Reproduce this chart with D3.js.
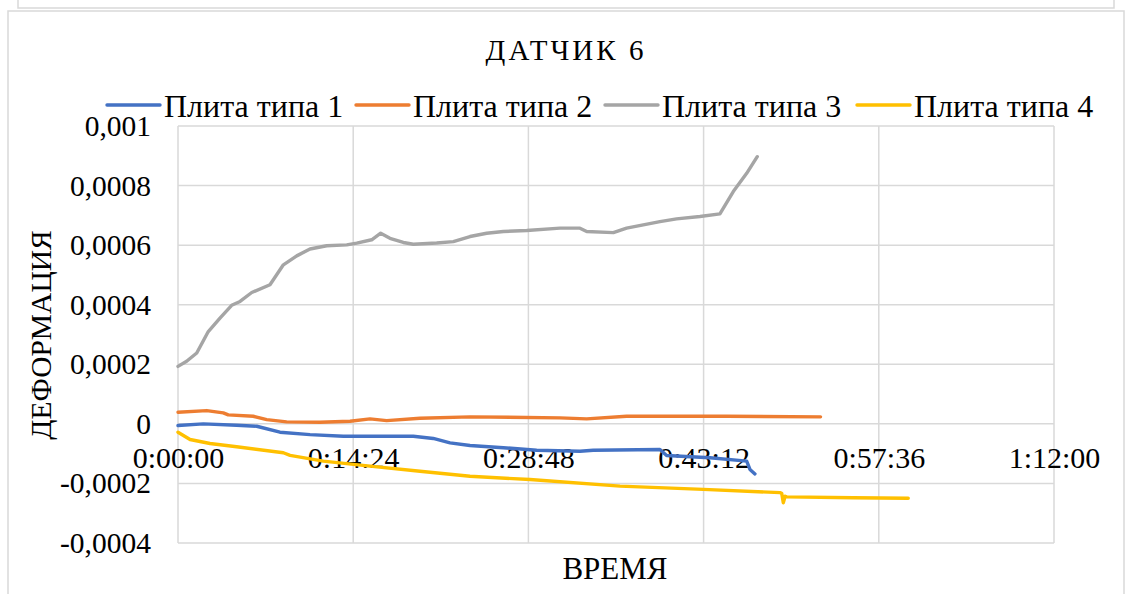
<!DOCTYPE html>
<html>
<head>
<meta charset="utf-8">
<script src="https://cdn.jsdelivr.net/npm/d3@7"></script>
<style>
  html, body { margin: 0; padding: 0; background: #ffffff; }
  svg { display: block; }
  svg text { font-family: "Liberation Serif", "Tinos", "Times New Roman", "Noto Serif", "DejaVu Serif", serif !important; fill: #000; }
</style>
</head>
<body>
<svg id="chart" width="1125" height="594"></svg>
<script>
// ---------- data ----------
const chartTitle = "ДАТЧИК 6";
const xAxisTitle = "ВРЕМЯ";
const yAxisTitle = "ДЕФОРМАЦИЯ";
const seriesNames = ["Плита типа 1", "Плита типа 2", "Плита типа 3", "Плита типа 4"];
const seriesColors = ["#4472C4", "#ED7D31", "#A5A5A5", "#FFC000"];

const xTickLabels = ["0:00:00", "0:14:24", "0:28:48", "0:43:12", "0:57:36", "1:12:00"];
const yTickValues = [-0.0004, -0.0002, 0, 0.0002, 0.0004, 0.0006, 0.0008, 0.001];
const yTickLabels = ["-0,0004", "-0,0002", "0", "0,0002", "0,0004", "0,0006", "0,0008", "0,001"];

// time in minutes
const plate1Time = [0, 2.08, 4.82, 6.47, 8.38, 10.85, 13.59, 16.33, 19.34, 20.98, 22.36, 24.0, 26.74, 29.48, 33.04, 34.13, 39.61, 40.16, 43.73, 46.74, 47.01, 47.42];
const plate1Value = [-0.0000057, 0, -0.0000047, -0.000008, -0.000028, -0.000036, -0.0000415, -0.0000415, -0.0000415, -0.000049, -0.0000637, -0.0000727, -0.00008, -0.0000885, -0.000092, -0.0000885, -0.000086, -0.000106, -0.000114, -0.000125, -0.000153, -0.000168];

const plate2Time = [0, 2.36, 3.72, 4.13, 6.19, 7.29, 8.93, 11.67, 14.14, 15.78, 17.15, 19.89, 24.0, 31.40, 33.59, 36.87, 45.09, 52.81];
const plate2Value = [0.000039, 0.0000446, 0.000037, 0.00003, 0.0000255, 0.0000144, 0.0000067, 0.0000054, 0.0000087, 0.0000168, 0.000011, 0.000019, 0.0000235, 0.00002, 0.0000168, 0.0000255, 0.0000255, 0.0000235];

const plate3Time = [0, 0.71, 1.54, 2.49, 3.45, 4.41, 5.10, 6.06, 7.56, 8.66, 9.76, 10.85, 12.22, 13.87, 14.69, 15.92, 16.66, 17.42, 18.52, 19.34, 21.26, 22.63, 24.0, 25.37, 26.74, 28.66, 31.40, 33.04, 33.59, 35.78, 36.87, 39.61, 40.98, 42.90, 44.54, 45.64, 46.74, 47.61];
const plate3Value = [0.000193, 0.00021, 0.000238, 0.00031, 0.000355, 0.000398, 0.000411, 0.000441, 0.000467, 0.000534, 0.000564, 0.000587, 0.000598, 0.000601, 0.000607, 0.000618, 0.00064, 0.000623, 0.000609, 0.000603, 0.000607, 0.000612, 0.000629, 0.00064, 0.000646, 0.000649, 0.000657, 0.000657, 0.000646, 0.000642, 0.000657, 0.000679, 0.000688, 0.000696, 0.000705, 0.00078, 0.000841, 0.000897];

const plate4Time = [0, 0.99, 2.63, 4.82, 8.66, 9.21, 11.94, 15.78, 19.89, 24.0, 28.93, 36.33, 43.18, 49.48, 49.62, 49.75, 49.9, 50.03, 55.50, 60.02];
const plate4Value = [-0.000028, -0.0000526, -0.000066, -0.000077, -0.000097, -0.000106, -0.000125, -0.000142, -0.000159, -0.000176, -0.000187, -0.000209, -0.00022, -0.000231, -0.000233, -0.000265, -0.000243, -0.000245, -0.000248, -0.00025];

const seriesTimes = [plate1Time, plate2Time, plate3Time, plate4Time];
const seriesValues = [plate1Value, plate2Value, plate3Value, plate4Value];

// ---------- layout ----------
const svg = d3.select("#chart");
const plot = { left: 178, right: 1054, top: 126, bottom: 543 };
const gridColor = "#d9d9d9";
const serif = '"Liberation Serif", "Tinos", "Times New Roman", "Noto Serif", "DejaVu Serif", serif';

function labelToMinutes(s) {
  const p = s.split(":").map(Number);
  return p[0] * 60 + p[1] + p[2] / 60;
}
const xTickValues = xTickLabels.map(labelToMinutes);

const x = d3.scaleLinear().domain([0, 72]).range([plot.left, plot.right]);
const y = d3.scaleLinear().domain([-0.0004, 0.001]).range([plot.bottom, plot.top]);

// outer frames
svg.append("rect").attr("x", 18).attr("y", -20).attr("width", 1096).attr("height", 28)
  .attr("fill", "none").attr("stroke", gridColor).attr("stroke-width", 1.5);
svg.append("rect").attr("x", 8).attr("y", 11).attr("width", 1116).attr("height", 620)
  .attr("fill", "#fff").attr("stroke", gridColor).attr("stroke-width", 1.5);

// gridlines
const grid = svg.append("g");
grid.selectAll("line.h").data(yTickValues).join("line")
  .attr("x1", plot.left).attr("x2", plot.right)
  .attr("y1", d => y(d)).attr("y2", d => y(d))
  .attr("stroke", gridColor).attr("stroke-width", 1.5);
grid.selectAll("line.v").data(xTickValues).join("line")
  .attr("x1", d => x(d)).attr("x2", d => x(d))
  .attr("y1", plot.top).attr("y2", plot.bottom)
  .attr("stroke", gridColor).attr("stroke-width", 1.5);

// y axis labels
const yAxis = d3.axisLeft(y).tickValues(yTickValues)
  .tickFormat((d, i) => yTickLabels[i]).tickSize(0).tickPadding(27);
const gy = svg.append("g").attr("transform", `translate(${plot.left},0)`).call(yAxis);
gy.attr("font-family", serif).attr("font-size", 29.5);
gy.select(".domain").remove();
gy.selectAll("text").attr("font-size", 29.5).style("font-family", serif).attr("fill", "#000");

// x axis labels (at zero line)
const xAxis = d3.axisBottom(x).tickValues(xTickValues)
  .tickFormat((d, i) => xTickLabels[i]).tickSize(0).tickPadding(0);
const gx = svg.append("g").attr("transform", `translate(0,${y(0)})`).call(xAxis);
gx.attr("font-family", serif).attr("font-size", 30);
gx.select(".domain").remove();
gx.selectAll("text").attr("font-size", 30).style("font-family", serif)
  .attr("fill", "#000").attr("dy", null).attr("y", 44);

// series lines
const line = d3.line().x(d => x(d[0])).y(d => y(d[1]));
const lines = svg.append("g");
seriesNames.forEach((name, i) => {
  const pts = seriesTimes[i].map((t, j) => [t, seriesValues[i][j]]);
  lines.append("path").datum(pts)
    .attr("d", line).attr("fill", "none")
    .attr("stroke", seriesColors[i]).attr("stroke-width", 3.4)
    .attr("stroke-linejoin", "round").attr("stroke-linecap", "round");
});

// title
svg.append("text").attr("x", 566).attr("y", 60).attr("text-anchor", "middle")
  .style("font-family", serif)
  .attr("font-size", 29).attr("letter-spacing", "3px").text(chartTitle);

// axis titles
svg.append("text").attr("x", 615).attr("y", 579).attr("text-anchor", "middle")
  .style("font-family", serif).attr("font-size", 31).text(xAxisTitle);
svg.append("text").attr("transform", "translate(51,335) rotate(-90)")
  .style("font-family", serif)
  .attr("text-anchor", "middle").attr("font-size", 29.5).text(yAxisTitle);

// legend
const legendX = [107, 356, 605, 857];
const legend = svg.append("g");
seriesNames.forEach((name, i) => {
  legend.append("line").attr("x1", legendX[i]).attr("x2", legendX[i] + 53)
    .attr("y1", 105).attr("y2", 105)
    .attr("stroke", seriesColors[i]).attr("stroke-width", 3.4).attr("stroke-linecap", "round");
  legend.append("text").attr("x", legendX[i] + 57).attr("y", 117)
    .style("font-family", serif)
    .attr("font-size", 32).text(name);
});
</script>
</body>
</html>
